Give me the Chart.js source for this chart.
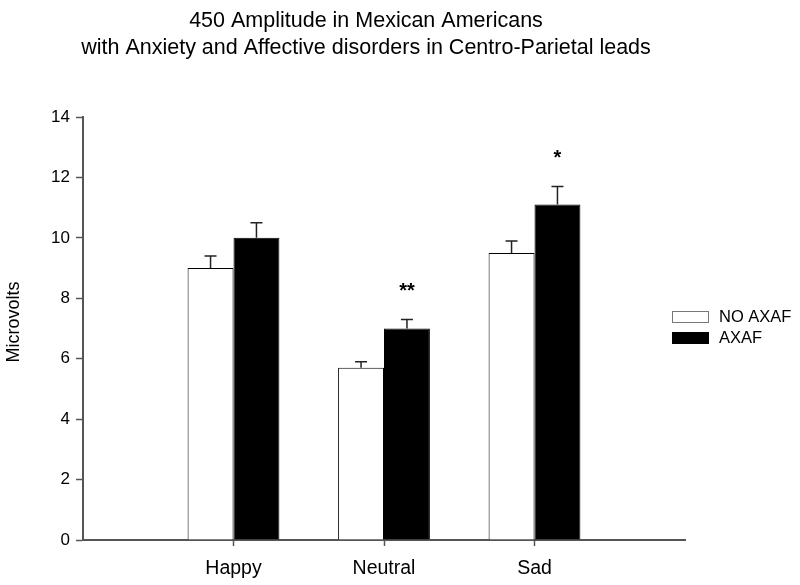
<!DOCTYPE html>
<html>
<head>
<meta charset="utf-8">
<script src="https://cdn.jsdelivr.net/npm/chart.js@4/dist/chart.umd.min.js"></script>
<style>
  body { margin: 0; background: #fff; }
  #wrap { width: 800px; height: 585px; }
</style>
</head>
<body>
<div id="wrap"><canvas id="chart"></canvas></div>
<script>
// data
const titleLines = ['450 Amplitude in Mexican Americans', 'with Anxiety and Affective disorders in Centro-Parietal leads'];
const categories = ['Happy', 'Neutral', 'Sad'];
const seriesNames = ['NO AXAF', 'AXAF'];
const noAxaf = [9.0, 5.7, 9.5];
const noAxafErr = [0.4, 0.2, 0.4];
const axaf = [10.0, 7.0, 11.1];
const axafErr = [0.5, 0.3, 0.6];
const yTicks = [0, 2, 4, 6, 8, 10, 12, 14];
// significance marks over the AXAF bars
const sigMarks = ['', '**', '*'];
const sigLevels = [0, 8.3, 12.7];

const axisGrey = '#555';
const font = 'Arial, "Liberation Sans", sans-serif';

// categories sit at x = 1,2,3 on a 0..4 axis
const toPoints = vals => vals.map((v, i) => ({ x: i + 1, y: v }));

const extras = {
  id: 'extras',
  afterDatasetsDraw(chart) {
    const ctx = chart.ctx;
    const y = chart.scales.y;
    const errs = [noAxafErr, axafErr];
    ctx.save();
    // error bars (upper only)
    ctx.strokeStyle = '#222';
    ctx.lineWidth = 1.5;
    chart.data.datasets.forEach((ds, d) => {
      chart.getDatasetMeta(d).data.forEach((bar, i) => {
        const top = y.getPixelForValue(ds.data[i].y + errs[d][i]);
        ctx.beginPath();
        ctx.moveTo(bar.x, bar.y);
        ctx.lineTo(bar.x, top);
        ctx.moveTo(bar.x - 6, top);
        ctx.lineTo(bar.x + 6, top);
        ctx.stroke();
      });
    });
    // asterisks
    ctx.fillStyle = '#000';
    ctx.font = 'bold 20px ' + font;
    ctx.textAlign = 'center';
    ctx.textBaseline = 'middle';
    chart.getDatasetMeta(1).data.forEach((bar, i) => {
      if (sigMarks[i]) ctx.fillText(sigMarks[i], bar.x, y.getPixelForValue(sigLevels[i]) + 2);
    });
    ctx.restore();
  },
  afterDraw(chart) {
    const ctx = chart.ctx;
    ctx.save();
    // title
    ctx.fillStyle = '#000';
    ctx.font = '21.5px ' + font;
    ctx.textAlign = 'center';
    ctx.textBaseline = 'middle';
    ctx.fillText(titleLines[0], 366, 21);
    ctx.fillText(titleLines[1], 366, 48);
    // legend
    ctx.font = '16.5px ' + font;
    ctx.textAlign = 'left';
    chart.data.datasets.forEach((ds, d) => {
      const by = 311 + d * 21;
      ctx.fillStyle = ds.backgroundColor;
      ctx.fillRect(672, by, 37, 12);
      ctx.strokeStyle = d === 0 ? '#777' : '#000';
      ctx.lineWidth = 1;
      ctx.strokeRect(672.5, by + 0.5, 36, 11);
      ctx.fillStyle = '#000';
      ctx.fillText(seriesNames[d], 719, by + 6.5);
    });
    // y axis title
    ctx.font = '18px ' + font;
    ctx.textAlign = 'center';
    ctx.translate(14, 322);
    ctx.rotate(-Math.PI / 2);
    ctx.fillText('Microvolts', 0, 0);
    ctx.restore();
  }
};

new Chart(document.getElementById('chart'), {
  type: 'bar',
  data: {
    datasets: [
      {
        label: seriesNames[0],
        data: toPoints(noAxaf),
        backgroundColor: '#fff',
        borderColor: '#000',
        borderWidth: 1
      },
      {
        label: seriesNames[1],
        data: toPoints(axaf),
        backgroundColor: '#000',
        borderColor: '#000',
        borderWidth: 1
      }
    ]
  },
  options: {
    responsive: true,
    maintainAspectRatio: false,
    animation: false,
    categoryPercentage: 0.61,
    barPercentage: 1,
    layout: { padding: { top: 117, right: 115, left: 0, bottom: 0 } },
    plugins: {
      legend: { display: false },
      title: { display: false },
      tooltip: { enabled: false }
    },
    scales: {
      x: {
        type: 'linear',
        min: 0,
        max: 4,
        offset: false,
        afterBuildTicks: s => { s.ticks = categories.map((c, i) => ({ value: i + 1 })); },
        afterFit: s => { s.height = 45; },
        grid: { display: true, drawOnChartArea: false, tickLength: 6, tickColor: axisGrey, tickWidth: 1.5, offset: false },
        border: { color: axisGrey, width: 2 },
        ticks: {
          autoSkip: false,
          maxRotation: 0,
          padding: 11,
          color: '#000',
          font: { family: font, size: 19.5 },
          callback: v => categories[v - 1]
        }
      },
      y: {
        min: 0,
        max: 14,
        afterBuildTicks: s => { s.ticks = yTicks.map(v => ({ value: v })); },
        afterFit: s => { s.width = 83; },
        grid: { display: true, drawOnChartArea: false, tickLength: 7, tickColor: axisGrey, tickWidth: 1.5 },
        border: { color: axisGrey, width: 2 },
        ticks: {
          padding: 6,
          color: '#000',
          font: { family: font, size: 17 }
        }
      }
    }
  },
  plugins: [extras]
});
</script>
</body>
</html>
